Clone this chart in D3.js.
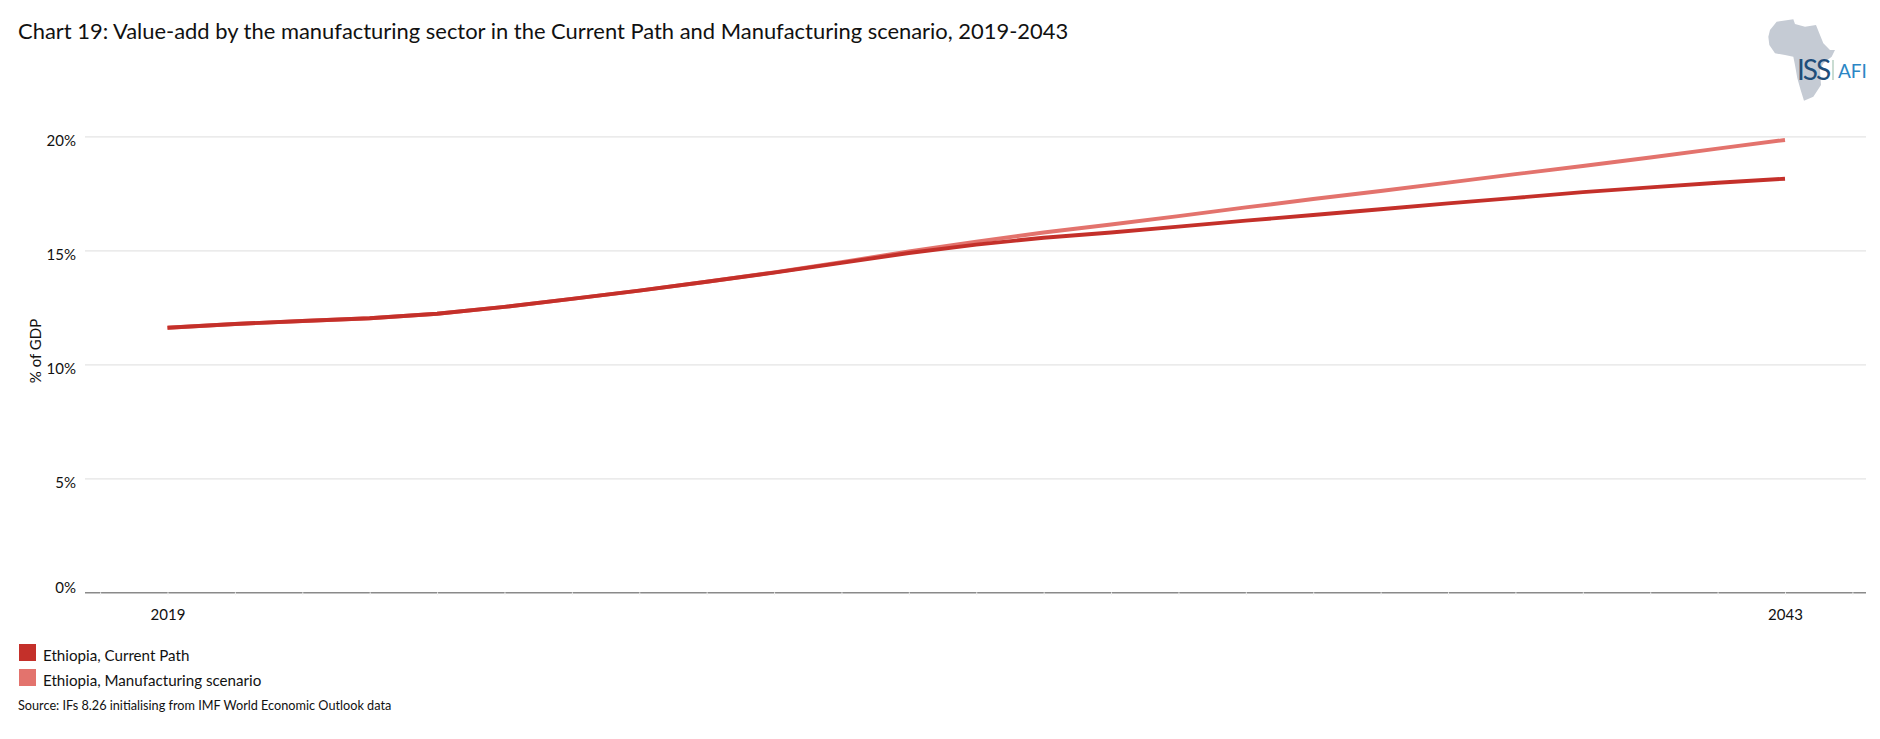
<!DOCTYPE html>
<html>
<head>
<meta charset="utf-8">
<script src="https://cdn.jsdelivr.net/npm/d3@7"></script>
<style>
  html, body { margin: 0; padding: 0; background: #fff; }
  svg { display: block; }
  text { font-family: Lato, "Open Sans", sans-serif; fill: #111; }
</style>
</head>
<body>
<svg id="chart"></svg>
<script>
const YEARS = d3.range(2019, 2044);
const CURRENT_PATH = [11.6, 11.77, 11.9, 12.02, 12.22, 12.52, 12.87, 13.23, 13.62, 14.02, 14.45, 14.88, 15.25, 15.55, 15.78, 16.04, 16.3, 16.55, 16.8, 17.06, 17.3, 17.55, 17.76, 17.96, 18.14];
const MANUFACTURING = [11.6, 11.77, 11.9, 12.02, 12.22, 12.52, 12.87, 13.23, 13.62, 14.03, 14.48, 14.95, 15.38, 15.78, 16.13, 16.5, 16.88, 17.25, 17.6, 17.97, 18.34, 18.7, 19.07, 19.46, 19.84];
const Y_TICKS = [0, 5, 10, 15, 20];
const X_LABELS = [2019, 2043];
const LEGEND = ['Ethiopia, Current Path', 'Ethiopia, Manufacturing scenario'];
const COLORS = ['#c4302a', '#e3736d'];

const WIDTH = 1880;
const HEIGHT = 739;

const svg = d3.select('#chart').attr('width', WIDTH).attr('height', HEIGHT);

const x = d3.scaleLinear().domain([2019, 2043]).range([167.5, 1785]);
const y = d3.scaleLinear().domain([0, 20]).range([592.3, 136.3]);

svg.append('text')
  .attr('x', 18).attr('y', 39)
  .style('font-size', '21.93px')
  .text('Chart 19: Value-add by the manufacturing sector in the Current Path and Manufacturing scenario, 2019-2043');

// y axis with gridlines
const yAxis = svg.append('g')
  .attr('transform', 'translate(85,0)')
  .call(d3.axisLeft(y).tickValues(Y_TICKS).tickSize(0).tickPadding(9).tickFormat(d => d + '%'));
yAxis.select('.domain').remove();
yAxis.selectAll('text')
  .style('font-size', '15px')
  .attr('dy', d => d === 0 ? '0.02em' : '0.58em');
yAxis.selectAll('line')
  .attr('x2', 1781)
  .attr('stroke', d => d === 0 ? '#8a8a8a' : '#e4e4e4')
  .attr('stroke-width', d => d === 0 ? 1.5 : 1.2);

// faint yearly ticks, only the two ends get labels
const xAxis = svg.append('g')
  .attr('transform', 'translate(0,592.3)')
  .call(d3.axisBottom(x)
    .tickValues(d3.range(2018, 2045))
    .tickSize(3)
    .tickPadding(14)
    .tickFormat(d => X_LABELS.includes(d) ? d : ''));
xAxis.select('.domain').remove();
xAxis.selectAll('line').attr('stroke', '#f3f3f3');
xAxis.selectAll('text').style('font-size', '15px');

svg.append('text')
  .attr('transform', 'translate(41,351) rotate(-90)')
  .attr('text-anchor', 'middle')
  .style('font-size', '15px')
  .text('% of GDP');

const line = d3.line().x((d, i) => x(YEARS[i])).y(d => y(d));

svg.selectAll('.series')
  .data([MANUFACTURING, CURRENT_PATH])
  .enter()
  .append('path')
  .classed('series', true)
  .attr('d', line)
  .attr('fill', 'none')
  .attr('stroke', (d, i) => COLORS[1 - i])
  .attr('stroke-width', 3.9)
  .attr('stroke-linecap', 'butt');

// legend
const legend = svg.selectAll('.legend')
  .data(LEGEND)
  .enter()
  .append('g')
  .classed('legend', true)
  .attr('transform', (d, i) => `translate(19,${644 + i * 25})`);
legend.append('rect')
  .attr('width', 17).attr('height', 17)
  .attr('fill', (d, i) => COLORS[i]);
legend.append('text')
  .attr('x', 24).attr('y', 17)
  .style('font-size', '15.15px')
  .text(d => d);

svg.append('text')
  .attr('x', 18).attr('y', 710)
  .style('font-size', '12.7px')
  .text('Source: IFs 8.26 initialising from IMF World Economic Outlook data');

// ISS AFI logo
const logo = svg.append('g').attr('transform', 'translate(1740,0) scale(0.3333)');
logo.append('path')
  .attr('d', 'M110,65 L160,58 L165,72 L195,80 L228,75 L240,105 L250,130 L270,150 L285,150 L275,170 L250,190 L240,210 L243,255 L220,290 L192,302 L182,270 L172,235 L165,195 L160,170 L135,165 L105,160 L88,135 L85,110 L90,90 Z')
  .attr('fill', '#c5cbd4');
svg.append('text')
  .attr('x', 1797).attr('y', 80)
  .style('font-size', '28px').style('letter-spacing', '-2px').style('fill', '#1f4e7a')
  .text('ISS');
svg.append('rect')
  .attr('x', 1832).attr('y', 60).attr('width', 2).attr('height', 20)
  .attr('fill', '#c9dcd2');
svg.append('text')
  .attr('x', 1838).attr('y', 78)
  .style('font-size', '19px').style('fill', '#2b86c5')
  .text('AFI');
</script>
</body>
</html>
